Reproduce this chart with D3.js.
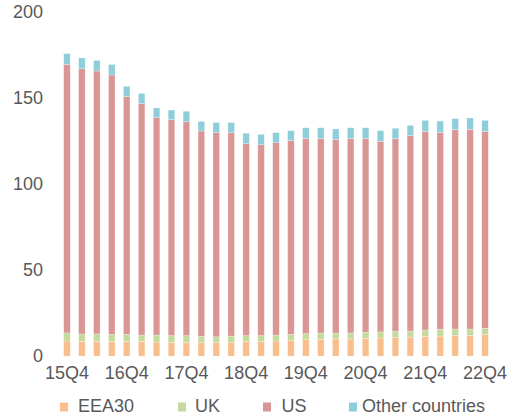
<!DOCTYPE html>
<html>
<head>
<meta charset="utf-8">
<script src="https://cdn.jsdelivr.net/npm/d3@7"></script>
<style>
  html, body { margin: 0; padding: 0; background: #ffffff; }
  svg { display: block; }
  text { font-family: "Liberation Sans", Arial, sans-serif; }
</style>
</head>
<body>
<svg id="chart" width="510" height="418"></svg>
<script>
const quarters = ["15Q4","16Q1","16Q2","16Q3","16Q4","17Q1","17Q2","17Q3","17Q4","18Q1","18Q2","18Q3","18Q4",
  "19Q1","19Q2","19Q3","19Q4","20Q1","20Q2","20Q3","20Q4","21Q1","21Q2","21Q3","21Q4","22Q1","22Q2","22Q3","22Q4"];
const seriesNames = ["EEA30", "UK", "US", "Other countries"];
const eea30 = [8.7, 8.5, 8.5, 8.5, 8.5, 8.5, 8.1, 7.9, 7.9, 7.8, 7.8, 7.9, 8.5, 8.5, 8.7, 9.1, 9.5, 9.7, 9.9, 9.9,
  10.3, 10.5, 10.9, 11.0, 11.4, 11.6, 12.0, 12.0, 12.6];
const uk = [4.7, 4.3, 4.3, 4.1, 4.1, 3.7, 4.1, 3.9, 3.9, 3.6, 3.4, 3.7, 3.3, 3.3, 3.5, 3.5, 3.5, 3.7, 3.5, 3.5,
  3.5, 3.5, 3.4, 3.5, 3.7, 3.9, 3.7, 3.7, 3.5];
const us = [156.2, 154.2, 152.9, 150.8, 138.2, 134.5, 126.4, 125.6, 124.4, 119.4, 118.8, 118.2, 111.6, 111.0,
  111.8, 112.6, 113.5, 113.1, 112.5, 113.1, 112.7, 110.8, 112.0, 113.6, 115.5, 114.5, 115.9, 116.1, 114.5];
const other = [6.2, 6.3, 6.2, 6.1, 6.0, 6.0, 5.6, 5.6, 6.1, 5.6, 5.8, 5.9, 6.1, 6.1, 5.8, 5.8, 6.2, 6.2, 6.1, 6.2,
  6.2, 6.2, 6.1, 6.0, 6.4, 6.6, 6.4, 6.6, 6.4];
const yTicks = [0, 50, 100, 150, 200];
const xTickLabels = ["15Q4","16Q4","17Q4","18Q4","19Q4","20Q4","21Q4","22Q4"];
const colors = ["#F8BE8C", "#C4D99B", "#DA9695", "#8ECEDB"];

const svg = d3.select("#chart");
const x = d3.scaleBand().domain(quarters).range([59.5, 492.5]).paddingInner(0.56).paddingOuter(0.28);
const y = d3.scaleLinear().domain([0, 200]).range([356, 12]);

const table = quarters.map((q, i) => ({ q, "EEA30": eea30[i], "UK": uk[i], "US": us[i], "Other countries": other[i] }));
const stacked = d3.stack().keys(seriesNames)(table);
const color = d3.scaleOrdinal().domain(seriesNames).range(colors);

svg.append("g").selectAll("g").data(stacked).join("g")
  .attr("fill", d => color(d.key))
  .selectAll("rect").data(d => d).join("rect")
  .attr("x", d => x(d.data.q))
  .attr("width", x.bandwidth())
  .attr("y", d => y(d[1]))
  .attr("height", d => y(d[0]) - y(d[1]))
  .attr("stroke", "rgba(255,255,255,0.45)")
  .attr("stroke-width", 0.6);

const yAxis = svg.append("g").attr("transform", "translate(43,0)")
  .call(d3.axisLeft(y).tickValues(yTicks).tickSize(0).tickPadding(0).tickFormat(d3.format("d")));
yAxis.select(".domain").remove();
yAxis.selectAll("text").attr("font-size", 18).attr("fill", "#595959")
  .attr("font-family", "'Liberation Sans', Arial, sans-serif");

const xAxis = svg.append("g").attr("transform", "translate(0,356)")
  .call(d3.axisBottom(x).tickValues(xTickLabels).tickSize(0).tickPadding(10));
xAxis.select(".domain").remove();
xAxis.selectAll("text").attr("font-size", 18).attr("fill", "#595959")
  .attr("font-family", "'Liberation Sans', Arial, sans-serif");

const legendPos = [{ sx: 60, tx: 78 }, { sx: 178, tx: 195 }, { sx: 263, tx: 281.5 }, { sx: 349, tx: 362 }];
const legend = svg.append("g").selectAll("g").data(seriesNames).join("g");
legend.append("rect")
  .attr("x", (d, i) => legendPos[i].sx).attr("y", 402.5)
  .attr("width", 8).attr("height", 9)
  .attr("fill", d => color(d));
legend.append("text")
  .attr("x", (d, i) => legendPos[i].tx).attr("y", 412.3)
  .attr("font-size", 18).attr("fill", "#595959")
  .text(d => d);
</script>
</body>
</html>
